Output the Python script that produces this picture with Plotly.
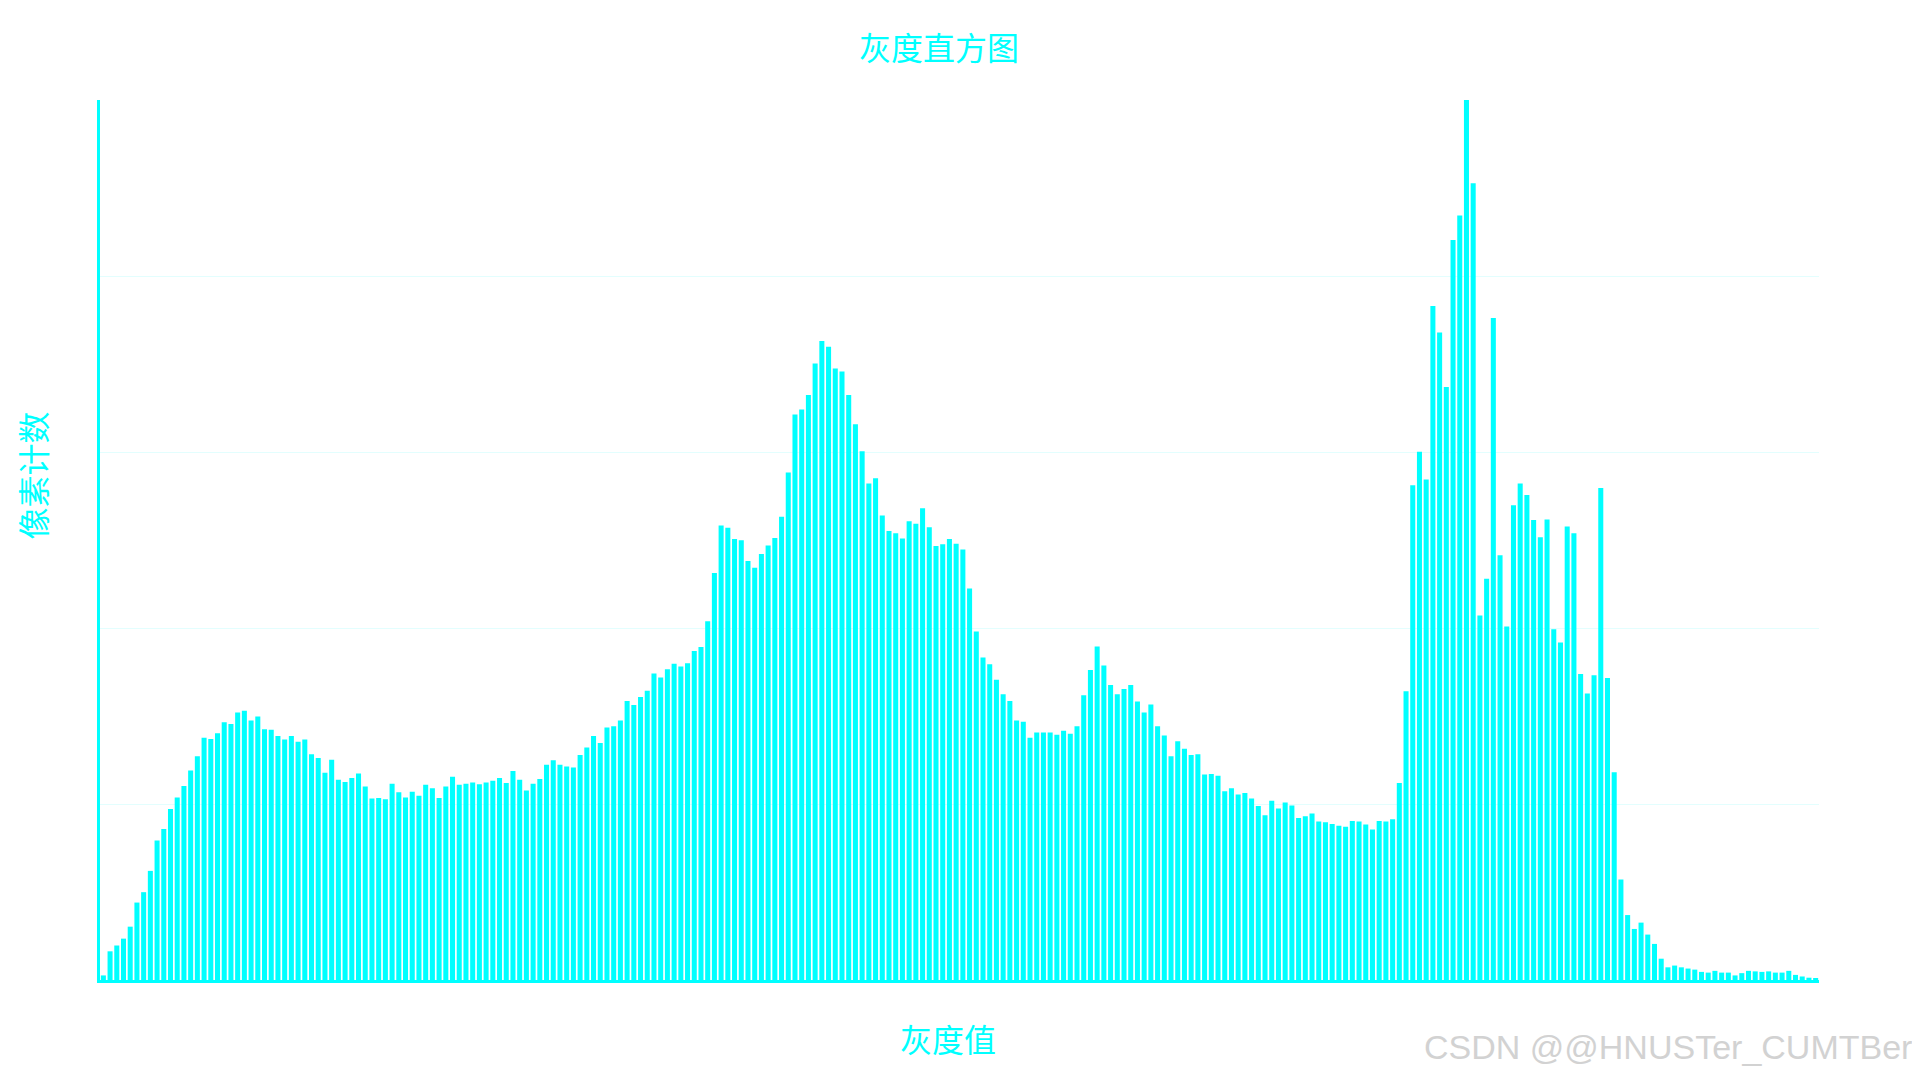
import plotly.graph_objects as go

# gray levels 0..255
gray_levels = list(range(256))

# pixel counts per gray level (one gridline = 1000)
pixel_counts = [
    26, 163, 196, 235, 303, 440, 499, 620, 793, 858,
    972, 1037, 1102, 1190, 1272, 1376, 1370, 1402, 1464, 1455,
    1520, 1530, 1474, 1497, 1425, 1422, 1386, 1367, 1386, 1354,
    1367, 1282, 1262, 1177, 1252, 1138, 1125, 1148, 1174, 1099,
    1031, 1034, 1027, 1115, 1067, 1037, 1070, 1047, 1109, 1089,
    1034, 1099, 1155, 1109, 1115, 1122, 1112, 1122, 1132, 1148,
    1119, 1187, 1138, 1076, 1115, 1142, 1223, 1249, 1223, 1213,
    1207, 1279, 1321, 1386, 1347, 1435, 1442, 1474, 1585, 1562,
    1608, 1644, 1742, 1719, 1765, 1797, 1781, 1800, 1869, 1892,
    2039, 2312, 2583, 2570, 2505, 2498, 2381, 2342, 2420, 2469,
    2511, 2632, 2883, 3213, 3242, 3324, 3503, 3630, 3598, 3474,
    3457, 3324, 3157, 3004, 2821, 2851, 2639, 2551, 2538, 2508,
    2606, 2593, 2681, 2573, 2466, 2476, 2505, 2479, 2446, 2224,
    1980, 1833, 1794, 1706, 1624, 1585, 1474, 1468, 1376, 1406,
    1406, 1406, 1393, 1416, 1399, 1442, 1618, 1761, 1895, 1787,
    1676, 1624, 1654, 1676, 1582, 1520, 1566, 1442, 1389, 1272,
    1357, 1314, 1279, 1282, 1168, 1171, 1161, 1073, 1089, 1054,
    1063, 1031, 988, 936, 1018, 975, 1008, 992, 920, 930,
    946, 900, 897, 887, 877, 871, 903, 900, 884, 855,
    903, 900, 913, 1119, 1641, 2811, 3001, 2844, 3829, 3679,
    3369, 4204, 4344, 5000, 4527, 2071, 2280, 3761, 2414, 2009,
    2697, 2821, 2756, 2613, 2515, 2616, 1993, 1918, 2577, 2538,
    1738, 1628, 1732, 2795, 1716, 1181, 571, 369, 290, 326,
    258, 205, 121, 72, 82, 72, 65, 59, 46, 42,
    52, 42, 42, 26, 39, 52, 49, 46, 49, 42,
    42, 52, 29, 20, 13, 10,
]

grid_values = [1000, 2000, 3000, 4000]
y_max = 5000

title_text = "灰度直方图"
x_title = "灰度值"
y_title = "像素计数"
watermark = "CSDN @@HNUSTer_CUMTBer"

CYAN = "#00FFFF"
CJK = "Noto Sans CJK SC"

# the page adds an 8px body margin, so the figure is 8px smaller than the window
W, H = 1912, 1072
OFF = 8
PL, PR, PT, PB = 100 - OFF, 1819.5 - OFF, 100 - OFF, 980 - OFF


def px_x(page_x):
    return (page_x - OFF - PL) / (PR - PL)


def px_y(page_y):
    return (PB - (page_y - OFF)) / (PB - PT)


fig = go.Figure(
    go.Bar(
        x=gray_levels,
        y=pixel_counts,
        marker=dict(color=CYAN, line=dict(width=0)),
    )
)

fig.update_layout(
    width=W,
    height=H,
    paper_bgcolor="white",
    plot_bgcolor="white",
    margin=dict(l=PL, r=W - PR, t=PT, b=H - PB, pad=0),
    bargap=0.25,
    showlegend=False,
    title=dict(
        text=title_text,
        x=(939 - OFF) / W,
        xanchor="center",
        y=1 - (49 - OFF) / H,
        yanchor="middle",
        font=dict(family=CJK, size=32, color=CYAN),
    ),
    xaxis=dict(
        range=[-0.5, 255.5],
        showticklabels=False,
        ticks="",
        showgrid=False,
        zeroline=False,
        showline=True,
        linecolor=CYAN,
        linewidth=3,
    ),
    yaxis=dict(
        range=[0, y_max],
        tickvals=grid_values,
        showticklabels=False,
        ticks="",
        showgrid=True,
        gridcolor="#E3FEFE",
        gridwidth=1,
        zeroline=False,
        showline=True,
        linecolor=CYAN,
        linewidth=3,
    ),
    annotations=[
        dict(
            text=x_title, xref="paper", yref="paper",
            x=px_x(948), y=px_y(1038),
            xanchor="center", yanchor="middle", showarrow=False,
            font=dict(family=CJK, size=32, color=CYAN),
        ),
        dict(
            text=y_title, xref="paper", yref="paper",
            x=px_x(31.5), y=px_y(476),
            xanchor="center", yanchor="middle", showarrow=False,
            textangle=-90, borderpad=0,
            font=dict(family=CJK, size=32, color=CYAN),
        ),
        dict(
            text=watermark, xref="paper", yref="paper",
            x=px_x(1915), y=px_y(1047),
            xanchor="right", yanchor="middle", showarrow=False,
            font=dict(family="Liberation Sans", size=34, color="#D2D2D2"),
        ),
    ],
)

fig.write_html("out.html")
